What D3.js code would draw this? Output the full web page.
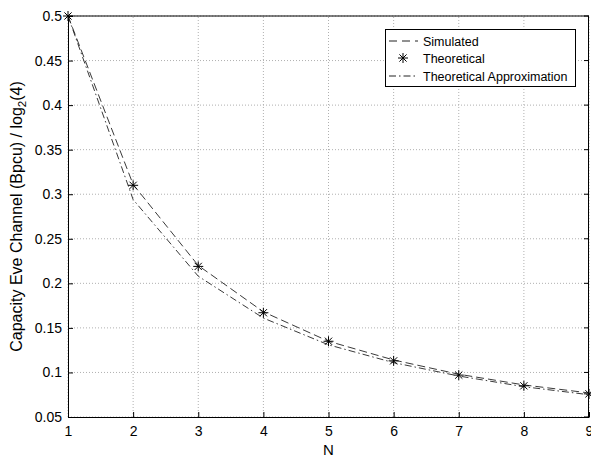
<!DOCTYPE html>
<html>
<head>
<meta charset="utf-8">
<script src="https://cdn.jsdelivr.net/npm/d3@7"></script>
<style>
  body { margin: 0; background: #fff; }
  text { font-family: "Liberation Sans", Arial, sans-serif; }
</style>
</head>
<body>
<div id="chart"></div>
<script>
const N = [1, 2, 3, 4, 5, 6, 7, 8, 9];
const simulated = [0.5, 0.311, 0.220, 0.168, 0.135, 0.114, 0.098, 0.086, 0.077];
const theoretical = [0.5, 0.310, 0.219, 0.167, 0.135, 0.113, 0.097, 0.085, 0.076];
const approximation = [0.5, 0.294, 0.208, 0.161, 0.131, 0.111, 0.096, 0.084, 0.075];
const xTicks = [1, 2, 3, 4, 5, 6, 7, 8, 9];
const yTicks = [0.05, 0.1, 0.15, 0.2, 0.25, 0.3, 0.35, 0.4, 0.45, 0.5];

const width = 591, height = 459;
const margin = { left: 68, right: 2, top: 16, bottom: 42 };

const svg = d3.select("#chart").append("svg")
    .attr("width", width)
    .attr("height", height);

const x = d3.scaleLinear().domain([1, 9]).range([margin.left, width - margin.right]);
const y = d3.scaleLinear().domain([0.05, 0.5]).range([height - margin.bottom, margin.top]);

// grid
svg.append("g").selectAll("line")
    .data(xTicks)
    .enter().append("line")
    .attr("x1", d => x(d)).attr("x2", d => x(d))
    .attr("y1", y(0.05)).attr("y2", y(0.5))
    .style("stroke", "#b0b0b0")
    .style("stroke-dasharray", "1,2");
svg.append("g").selectAll("line")
    .data(yTicks)
    .enter().append("line")
    .attr("x1", x(1)).attr("x2", x(9))
    .attr("y1", d => y(d)).attr("y2", d => y(d))
    .style("stroke", "#b0b0b0")
    .style("stroke-dasharray", "1,2");

// axes
const xAxis = d3.axisBottom(x).tickValues(xTicks).tickSizeInner(-5).tickSizeOuter(0).tickPadding(9).tickFormat(d3.format("d"));
const yAxis = d3.axisLeft(y).tickValues(yTicks).tickSizeInner(-5).tickSizeOuter(0).tickPadding(6).tickFormat(d => String(d));

const gx = svg.append("g").attr("transform", `translate(0,${y(0.05)})`).call(xAxis);
const gy = svg.append("g").attr("transform", `translate(${x(1)},0)`).call(yAxis);
[gx, gy].forEach(g => {
    g.selectAll("text").style("font-size", "14px").style("fill", "#000");
    g.selectAll("line").style("stroke", "#000");
    g.select(".domain").style("stroke", "#000");
});
// top and right frame
svg.append("line").attr("x1", x(1)).attr("x2", x(9)).attr("y1", y(0.5)).attr("y2", y(0.5)).style("stroke", "#000");
svg.append("line").attr("x1", x(9) - 0.5).attr("x2", x(9) - 0.5).attr("y1", y(0.5)).attr("y2", y(0.05)).style("stroke", "#000");
svg.append("g").selectAll("line")
    .data(yTicks)
    .enter().append("line")
    .attr("x1", x(9) - 5).attr("x2", x(9))
    .attr("y1", d => y(d)).attr("y2", d => y(d))
    .style("stroke", "#000");

// lines
const line = d3.line().x((d, i) => x(N[i])).y(d => y(d));
svg.append("path").datum(simulated)
    .attr("d", line)
    .style("fill", "none").style("stroke", "#222").style("stroke-width", 0.9)
    .style("stroke-dasharray", "8,4");
svg.append("path").datum(approximation)
    .attr("d", line)
    .style("fill", "none").style("stroke", "#222").style("stroke-width", 0.9)
    .style("stroke-dasharray", "7,3,1.5,3");

// star markers
function star(g, cx, cy, r) {
    const s = g.append("g").attr("transform", `translate(${cx},${cy})`);
    const a = r * 0.72;
    [[-r, 0, r, 0], [0, -r, 0, r], [-a, -a, a, a], [-a, a, a, -a]].forEach(p => {
        s.append("line").attr("x1", p[0]).attr("y1", p[1]).attr("x2", p[2]).attr("y2", p[3])
            .style("stroke", "#000").style("stroke-width", 1);
    });
}
const stars = svg.append("g");
theoretical.forEach((v, i) => star(stars, x(N[i]), y(v), 5));

// axis labels
svg.append("text")
    .attr("x", (x(1) + x(9)) / 2)
    .attr("y", 455)
    .attr("text-anchor", "middle")
    .style("font-size", "15px")
    .text("N");

const yl = svg.append("text")
    .attr("transform", `translate(22,${(y(0.05) + y(0.5)) / 2}) rotate(-90)`)
    .attr("text-anchor", "middle")
    .style("font-size", "16px");
yl.append("tspan").text("Capacity Eve Channel (Bpcu) / log");
yl.append("tspan").attr("dy", 4).style("font-size", "11.5px").text("2");
yl.append("tspan").attr("dy", -4).text("(4)");

// legend
const lg = svg.append("g");
lg.append("rect").attr("x", 385.5).attr("y", 29.5).attr("width", 190).attr("height", 57)
    .style("fill", "#fff").style("stroke", "#000");
const legendItems = ["Simulated", "Theoretical", "Theoretical Approximation"];
const rowY = [41, 58, 76];
legendItems.forEach((t, i) => {
    lg.append("text").attr("x", 423).attr("y", rowY[i] + 4.5).style("font-size", "12.5px").text(t);
});
lg.append("line").attr("x1", 389).attr("x2", 418).attr("y1", rowY[0]).attr("y2", rowY[0])
    .style("stroke", "#222").style("stroke-dasharray", "8,5");
star(lg, 403, rowY[1], 5);
lg.append("line").attr("x1", 389).attr("x2", 418).attr("y1", rowY[2]).attr("y2", rowY[2])
    .style("stroke", "#222").style("stroke-dasharray", "7,3,1.5,3");
</script>
</body>
</html>
